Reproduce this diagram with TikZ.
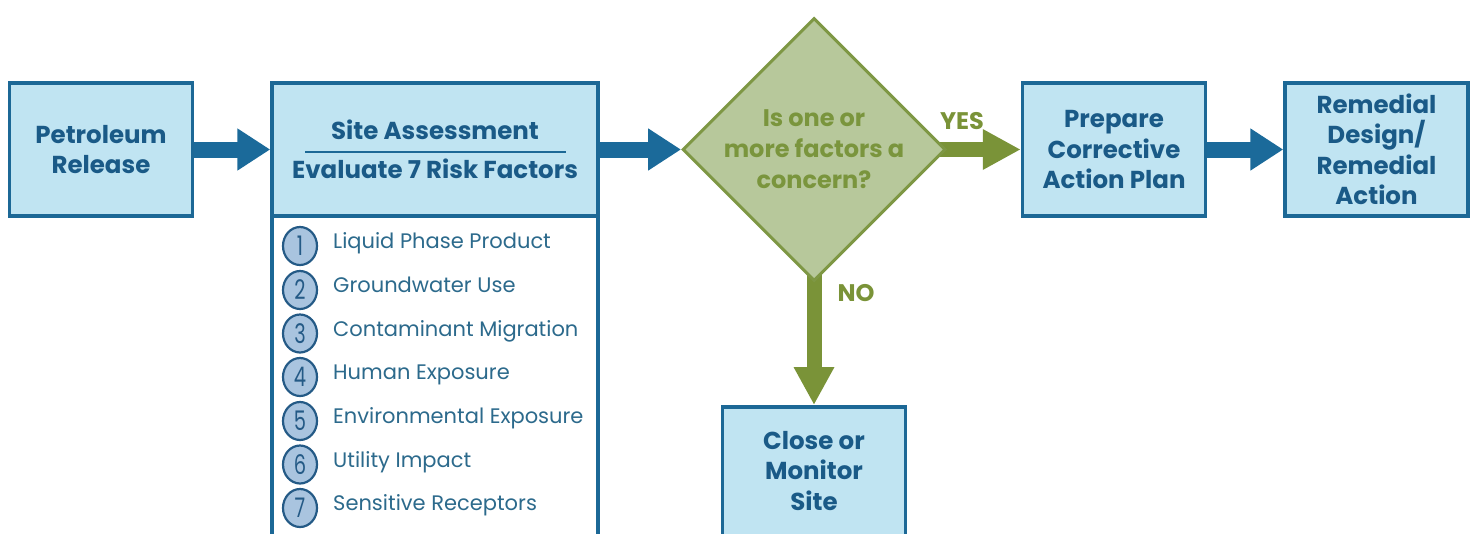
\documentclass[tikz,border=0pt]{standalone}
\usepackage{fontspec}
\setmainfont{Poppins}
\usetikzlibrary{arrows.meta,shapes.geometric,backgrounds}

\definecolor{boxfill}{HTML}{C0E4F2}
\definecolor{boxline}{HTML}{1C6896}
\definecolor{boxtext}{HTML}{1A5A87}
\definecolor{flowblue}{HTML}{1B6A9A}
\definecolor{sagefill}{HTML}{B7C89B}
\definecolor{sageline}{HTML}{7E9744}
\definecolor{flowgreen}{HTML}{7A9338}
\definecolor{sagetext}{HTML}{7A953D}
\definecolor{numfill}{HTML}{A9C4DF}
\definecolor{numline}{HTML}{245A86}
\definecolor{listtext}{HTML}{2C6A8C}

\begin{document}
\begin{tikzpicture}[x=1pt,y=-1pt,
  stepbox/.style={draw=boxline, fill=boxfill, line width=3.5pt, inner sep=0pt,
    minimum width=183pt, minimum height=133pt, align=center, text=boxtext,
    font=\bfseries\fontsize{24.5}{30.5}\selectfont},
  boxlabel/.style={align=center, text=boxtext, inner sep=0pt,
    font=\bfseries\fontsize{24.5}{30.5}\selectfont},
  bluearrow/.style={draw=flowblue, line width=16pt, -{Triangle[length=33pt,width=40pt]}},
  greenarrow/.style={draw=flowgreen, line width=15pt, -{Triangle[length=38pt,width=38pt]}},
  numdot/.style={ellipse, draw=numline, fill=numfill, line width=2.2pt, inner sep=0pt,
    minimum width=34pt, minimum height=38pt, text=numline,
    font=\fontsize{27}{27}\selectfont},
  itemtext/.style={anchor=west, inner sep=0pt, text=listtext, text height=0.72em, text depth=0.22em,
    font=\fontsize{21}{24}\selectfont},
  answer/.style={text=flowgreen, font=\bfseries\fontsize{24}{24}\selectfont, inner sep=0pt}
]
\useasboundingbox (0,0) rectangle (1471,533);
\clip (0,0) rectangle (1471,533);

% boxes of the main row
\node[stepbox] (petro) at (101,149.5) {Petroleum\\Release};

% site assessment: list body first, header drawn on top of it
\node[draw=boxline, fill=white, line width=3.5pt, minimum width=326pt, minimum height=330pt,
  inner sep=0pt] (factors) at (435,380) {};
\node[stepbox, minimum width=326pt] (site) at (435,149.5) {};
\node[boxlabel] (sitetitle) at (435,130) {Site Assessment};
\node[boxlabel] (sitesub) at (435,169) {Evaluate 7 Risk Factors};
\draw[boxline, line width=1.3pt] (305,152) -- (566,152);

\foreach \n/\y/\t in {1/246/Liquid Phase Product, 2/290/Groundwater Use,
    3/333.5/Contaminant Migration, 4/377/Human Exposure,
    5/421/Environmental Exposure, 6/464.5/Utility Impact,
    7/508/Sensitive Receptors}{
  \node[numdot] (c\n) at (300,\y) {\scalebox{0.72}[1]{\n}};
  \node[itemtext] (t\n) at (333,\y) {\t};
}

% decision
\node[diamond, aspect=1, draw=sageline, fill=sagefill, line width=3pt, inner sep=0pt,
  minimum width=263pt, minimum height=263pt] (decision) at (814,149.5) {};
\node[align=center, text=sagetext, font=\bfseries\fontsize{24}{31}\selectfont, inner sep=0pt]
  (question) at (814,149) {Is one or\\more factors a\\concern?};

\node[stepbox] (plan) at (1114,149.5) {Prepare\\Corrective\\Action Plan};
\node[stepbox] (remedy) at (1376.5,149.5) {Remedial\\Design/\\Remedial\\Action};
\node[stepbox, minimum height=200pt, anchor=north] (close) at (814,405) {};
\node[boxlabel] (closetext) at (814,471) {Close or\\Monitor\\Site};

% connectors, kept behind the shapes
\begin{scope}[on background layer]
\draw[bluearrow] (petro.east) -- (site.west);
\draw[bluearrow] (site.east) -- (decision.west);
\draw[greenarrow] ([xshift=-10pt]decision.east) -- (plan.west);
\draw[bluearrow] (plan.east) -- (remedy.west);
\draw[greenarrow] ([yshift=10pt]decision.south) -- (close.north);
\end{scope}

\node[answer] (yes) at (962,121) {YES};
\node[answer] (no) at (856,293) {NO};
\end{tikzpicture}
\end{document}
